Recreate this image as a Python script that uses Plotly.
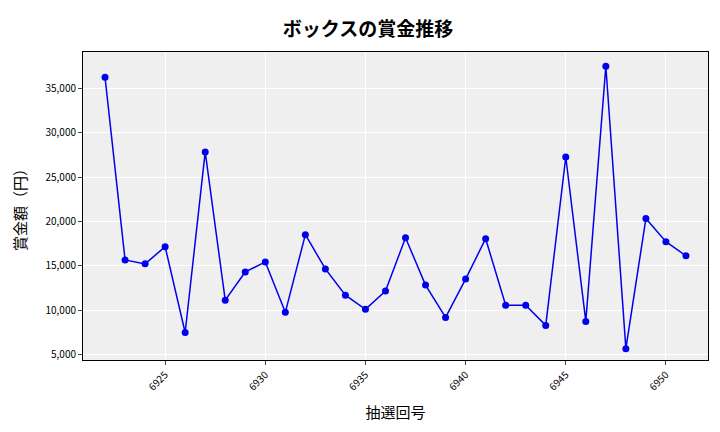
import plotly.graph_objects as go

draws = list(range(6922, 6952))
prizes = [36250, 15680, 15230, 17160, 7500, 27840, 11140, 14320, 15450, 9770,
          18520, 14660, 11700, 10110, 12160, 18180, 12840, 9200, 13520, 18070,
          10570, 10570, 8300, 27270, 8750, 37500, 5680, 20340, 17730, 16140]
xticks = [6925, 6930, 6935, 6940, 6945, 6950]
yticks = [5000, 10000, 15000, 20000, 25000, 30000, 35000]

fig = go.Figure(go.Scatter(x=draws, y=prizes, mode="lines+markers",
                           line=dict(color="#0000ee", width=1.5),
                           marker=dict(color="#0000ee", size=7)))
font = "Noto Sans CJK JP"
fig.update_layout(
    width=720, height=432, margin=dict(l=73, r=20, t=44, b=80),
    paper_bgcolor="white", plot_bgcolor="#efefef",
    font=dict(family=font, size=10, color="black"),
    title=dict(text="<b>ボックスの賞金推移</b>", x=0.5, xanchor="center", y=0.965,
               font=dict(size=19, family=font)),
    showlegend=False,
)
fig.update_xaxes(tickvals=xticks, tickangle=-45, range=[6920.9, 6952.1],
                 gridcolor="white", showline=True, linecolor="black", mirror=True,
                 ticks="outside", ticklen=4,
                 title=dict(text="抽選回号", font=dict(size=15)))
fig.update_yaxes(tickvals=yticks, tickformat=",", range=[4400, 39100],
                 gridcolor="white", showline=True, linecolor="black", mirror=True,
                 ticks="outside", ticklen=4,
                 title=dict(text="賞金額（円）", font=dict(size=15)))
fig.write_html("out.html")
